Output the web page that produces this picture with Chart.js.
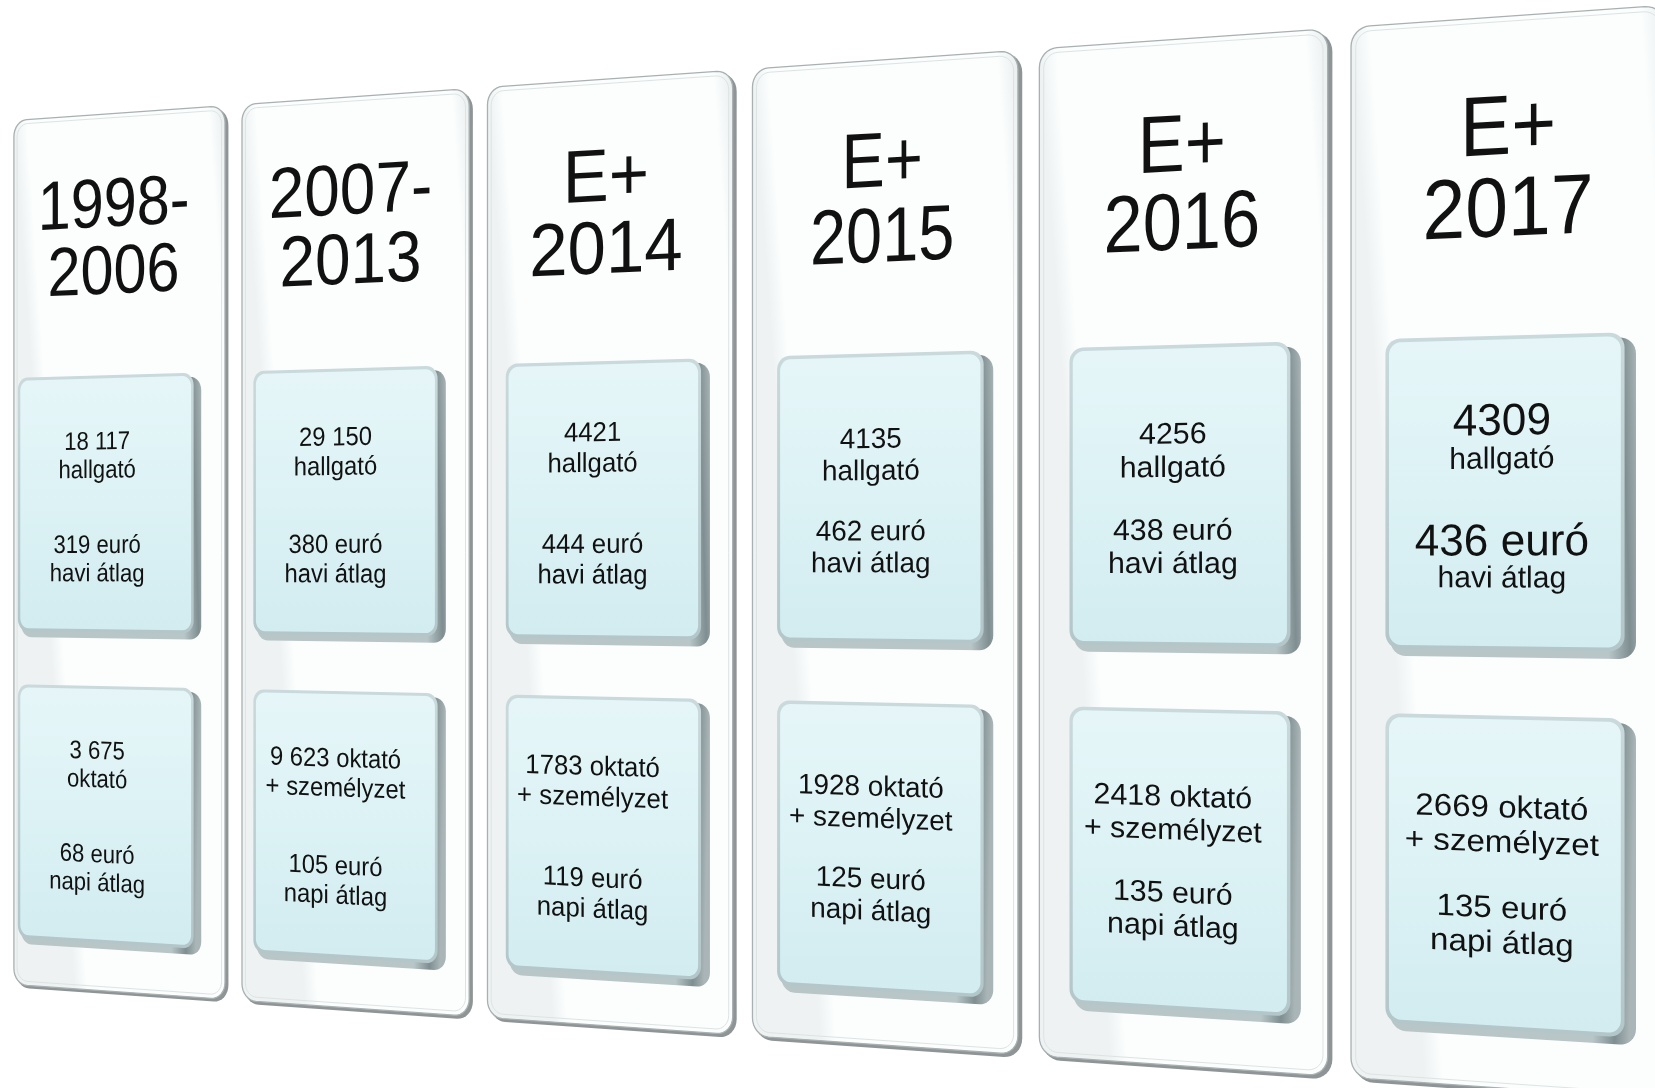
<!DOCTYPE html>
<html lang="hu">
<head>
<meta charset="utf-8">
<title>Mobilitás időszakonként</title>
<script src="https://cdn.jsdelivr.net/npm/chart.js@4.4.1/dist/chart.umd.min.js"></script>
<style>
  html, body { margin: 0; padding: 0; background: #fff; }
  #wrap { width: 1655px; height: 1088px; position: relative; }
</style>
</head>
<body>
<div id="wrap"><canvas id="panels"></canvas></div>
<script>
// periods (two title lines) and the figures shown in each column
const periodTop = ['1998-', '2007-', 'E+', 'E+', 'E+', 'E+'];
const periodBottom = ['2006', '2013', '2014', '2015', '2016', '2017'];
const students = [18117, 29150, 4421, 4135, 4256, 4309];
const monthlyEuro = [319, 380, 444, 462, 438, 436];
const staff = [3675, 9623, 1783, 1928, 2418, 2669];
const staffWho = ['oktató', 'oktató + személyzet', 'oktató + személyzet', 'oktató + személyzet', 'oktató + személyzet', 'oktató + személyzet'];
const dailyEuro = [68, 105, 119, 125, 135, 135];

const labels = periodTop.map((t, i) => t + ' ' + periodBottom[i]);

// the first two periods are written with a space as thousands separator
function fmt(n, i) {
    return i < 2 ? String(n).replace(/\B(?=(\d{3})+(?!\d))/g, ' ') : String(n);
}

// perspective: the row of panels is turned away to the left
const K = 0.2126;
const FONT = '"Liberation Sans", Arial, sans-serif';

function rrect(x0, y0, x1, y1, r) {
    const pts = [];
    const arc = (cx, cy, a0) => {
        for (let s = 0; s <= 8; s++) {
            const a = a0 + s / 8 * Math.PI / 2;
            pts.push([cx + r * Math.cos(a), cy + r * Math.sin(a)]);
        }
    };
    arc(x1 - r, y0 + r, -Math.PI / 2);
    arc(x1 - r, y1 - r, 0);
    arc(x0 + r, y1 - r, Math.PI / 2);
    arc(x0 + r, y0 + r, Math.PI);
    return pts;
}

const perspectivePanels = {
    id: 'perspectivePanels',
    afterDraw(chart) {
        const ctx = chart.ctx;
        const ca = chart.chartArea;
        const xs = chart.scales.x, ys = chart.scales.y;
        const yh = ys.getPixelForValue(0);
        const L = ca.left + 6, R = ca.right + 23;

        function P(xf, yf) {
            const t = (xf - ca.left) / ca.width;
            const z = 1 - K * t;
            return { x: L + (R - L) * t * (1 - K) / z, y: yh + (yf - yh) / z };
        }
        function trace(pts) {
            ctx.beginPath();
            pts.forEach((p, j) => {
                const q = P(p[0], p[1]);
                if (j) ctx.lineTo(q.x, q.y); else ctx.moveTo(q.x, q.y);
            });
            ctx.closePath();
        }
        function text(str, xf, yf, size, sx) {
            const p = P(xf, yf), px = P(xf + 1, yf), py = P(xf, yf + 1);
            ctx.save();
            ctx.transform((px.x - p.x) * sx, (px.y - p.y) * sx, py.x - p.x, py.y - p.y, p.x, p.y);
            ctx.font = size + 'px ' + FONT;
            ctx.fillStyle = '#111';
            ctx.textAlign = 'center';
            ctx.textBaseline = 'middle';
            ctx.fillText(str, 0, 0);
            ctx.restore();
        }
        function vGrad(xf, y0, y1, stops) {
            const a = P(xf, y0), b = P(xf, y1);
            const g = ctx.createLinearGradient(a.x, a.y, b.x, b.y);
            stops.forEach(s => g.addColorStop(s[0], s[1]));
            return g;
        }
        function hGrad(x0, x1, yf, stops) {
            const a = P(x0, yf), b = P(x1, yf);
            const g = ctx.createLinearGradient(a.x, a.y, b.x, b.y);
            stops.forEach(s => g.addColorStop(s[0], s[1]));
            return g;
        }

        const colW = xs.getPixelForValue(1) - xs.getPixelForValue(0);
        const halfW = colW * 0.464;
        const pTop = ys.getPixelForValue(-432), pBot = ys.getPixelForValue(431);

        function box(x0, x1, top, bot) {
            const cx = (x0 + x1) / 2;
            const y0 = ys.getPixelForValue(top), y1 = ys.getPixelForValue(bot);
            // side of the raised box
            trace(rrect(x0 + 4, y0 + 4, x1 + 9, y1 + 6, 13));
            ctx.fillStyle = hGrad(x1 - 20, x1 + 9, y0, [[0, '#b8c6c8'], [0.6, '#7f8e91'], [1, '#a9b5b7']]);
            ctx.fill();
            // rim
            trace(rrect(x0, y0, x1, y1, 12));
            ctx.fillStyle = vGrad(cx, y0, y1, [[0, '#c9d9dc'], [1, '#b3c6c9']]);
            ctx.fill();
            // face
            trace(rrect(x0 + 3, y0 + 3, x1 - 3, y1 - 3, 10));
            ctx.fillStyle = vGrad(cx, y0, y1, [[0, '#e6f6f8'], [0.5, '#dcf2f5'], [1, '#d2ecf0']]);
            ctx.fill();
        }

        labels.forEach((lab, i) => {
            const cx = xs.getPixelForValue(i);
            const x0 = cx - halfW, x1 = cx + halfW;

            // panel thickness
            trace(rrect(x0 + 2, pTop + 2, x1 + 4, pBot + 3, 17));
            ctx.fillStyle = '#8f9596';
            ctx.fill();
            // panel face
            trace(rrect(x0, pTop, x1, pBot, 16));
            ctx.fillStyle = hGrad(x0, x1, pTop, [[0, '#eef2f2'], [0.06, '#fcfefe'], [0.92, '#fcfefe'], [1, '#e8eded']]);
            ctx.fill();
            ctx.lineWidth = 1.3;
            ctx.strokeStyle = '#a9b0b1';
            ctx.stroke();
            trace(rrect(x0 + 4, pTop + 4, x1 - 4, pBot - 4, 13));
            ctx.lineWidth = 1;
            ctx.strokeStyle = '#dde3e3';
            ctx.stroke();

            // title
            const tx = cx - 5 + 1.5 * i;
            const tsx = i < 3 ? 1.06 : 0.92;
            text(periodTop[i], tx, ys.getPixelForValue(-340), 68, tsx);
            text(periodBottom[i], tx, ys.getPixelForValue(-274), 68, tsx);

            // boxes, standing out of the panel (parallax moves them left on the far side)
            const bl = cx - 123 + 9.1 * i - 0.857 * i * i;
            const br = cx + 96 - 2.5 * Math.max(0, 2 - i);
            box(bl, br, -175, 78);
            box(bl, br, 131, 384);

            const bx = cx - 25 + 4.5 * i;
            const upRows = i < 3 ? [-109, -81, -7, 21] : i < 5 ? [-99, -71, -18, 10] : [-105, -75, -8, 21];
            const loRows = i < 3 ? [196, 224, 298, 326] : [206, 234, 287, 315];
            const upSize = i === 5 ? [36, 24.5, 36, 24.5] : [25, 25, 25, 25];
            const upSx = i === 5 ? 1.0 : 1.08;

            const upLines = [fmt(students[i], i), 'hallgató', monthlyEuro[i] + ' euró', 'havi átlag'];
            const who = staffWho[i].split(' + ');
            const loLines = who.length > 1
                ? [fmt(staff[i], i) + ' ' + who[0], '+ ' + who[1], dailyEuro[i] + ' euró', 'napi átlag']
                : [fmt(staff[i], i), who[0], dailyEuro[i] + ' euró', 'napi átlag'];

            upLines.forEach((s, j) => text(s, bx, ys.getPixelForValue(upRows[j]), upSize[j], upSx));
            loLines.forEach((s, j) => text(s, bx, ys.getPixelForValue(loRows[j]), 25, 1.08));
        });
    }
};

new Chart(document.getElementById('panels').getContext('2d'), {
    type: 'bar',
    data: { labels: labels, datasets: [] },
    options: {
        responsive: true,
        maintainAspectRatio: false,
        animation: false,
        layout: { padding: { top: 18, left: 0, right: 0, bottom: 0 } },
        plugins: { legend: { display: false }, tooltip: { enabled: false } },
        scales: {
            x: { type: 'category', offset: true, display: false },
            y: { type: 'linear', min: -535, max: 535, reverse: true, display: false }
        }
    },
    plugins: [perspectivePanels]
});
</script>
</body>
</html>
